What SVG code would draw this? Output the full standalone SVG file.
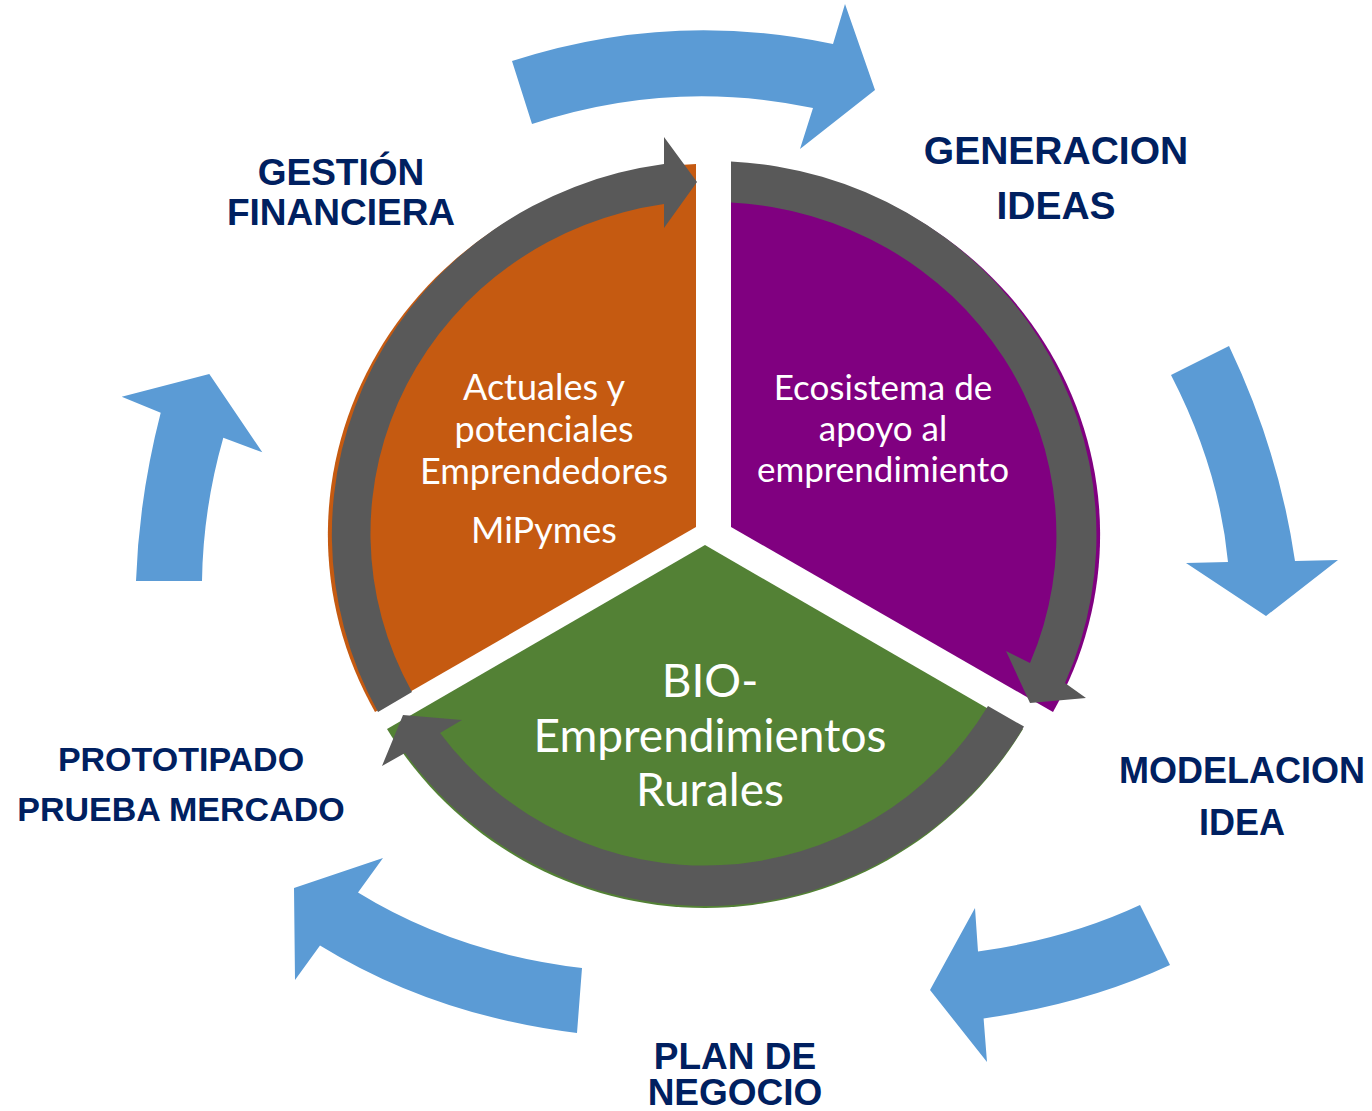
<svg xmlns="http://www.w3.org/2000/svg" width="1372" height="1111" viewBox="0 0 1372 1111">
  <style>
    .lbl { font-family: "Liberation Sans", Arial, sans-serif; font-weight: bold; fill: #002060; text-anchor: middle; }
    .in { font-family: Lato, "Noto Sans", sans-serif; fill: #FFFFFF; text-anchor: middle; }
    .blue { fill: #5B9BD5; }
    .gray { fill: #595959; }
  </style>
  <rect width="1372" height="1111" fill="#FFFFFF"/>

  <g id="seg-orange">
    <path d="M 696,164 L 696,527 L 375,712 A 387 371 0 0 1 696,164 Z" fill="#C55A11"/>
    <text class="in" font-size="36" x="544" y="400">Actuales y</text>
    <text class="in" font-size="36" x="544" y="442">potenciales</text>
    <text class="in" font-size="36" x="544" y="484">Emprendedores</text>
    <text class="in" font-size="36" x="544" y="543">MiPymes</text>
  </g>

  <g id="seg-purple">
    <path d="M 731,164 A 387 371 0 0 1 1053,712 L 731,527 Z" fill="#800080"/>
    <text class="in" font-size="35" x="883" y="400">Ecosistema de</text>
    <text class="in" font-size="35" x="883" y="441">apoyo al</text>
    <text class="in" font-size="35" x="883" y="482">emprendimiento</text>
  </g>

  <g id="seg-green">
    <path d="M 705,545 L 1023,729 A 372 372 0 0 1 387,729 Z" fill="#538135"/>
    <text class="in" font-size="46" x="710" y="697">BIO-</text>
    <text class="in" font-size="46" x="710" y="752">Emprendimientos</text>
    <text class="in" font-size="46" x="710" y="806">Rurales</text>
  </g>

  <g id="connectors">
    <!-- gray circular arrows -->
    <path class="gray" d="M 378,712 A 385 374 0 0 1 664,164 L 664,137 L 697,182 L 664,228 L 664,204 A 344 333 0 0 0 412,692 Z"/>
    <path class="gray" d="M 731,161.4 A 385 374 0 0 1 1065,683 L 1086,698 L 1030,703 L 1006,651 L 1030,663 A 344 333 0 0 0 731,202.5 Z"/>
    <path class="gray" d="M 1024,726.6 A 372 372 0 0 1 405,753 L 382,766 L 403,715 L 462,720 L 440,733 A 331 331 0 0 0 988,706 Z"/>
    <!-- blue outer arrows -->
    <path class="blue" d="M 512,61 Q 671,9.5 833,44 L 845,4 L 875,90 L 800,149 L 813,108 Q 671.5,78 532,124 Z"/>
    <path class="blue" d="M 1171,375 L 1229,346 Q 1279,451 1295,561 L 1338,560 L 1266,616 L 1186,563 L 1228,562 Q 1219,468 1171,375 Z"/>
    <path class="blue" d="M 1140,905 Q 1068,938.7 978,951.6 L 975,908 L 930,990 L 987,1062 L 983.6,1018.4 Q 1086.8,1003.6 1170,965 Z"/>
    <path class="blue" d="M 582,968 Q 456,953 358,892.6 L 383,858 L 294,888 L 295,980 L 320,945.4 Q 433,1015 577,1033 Z"/>
    <path class="blue" d="M 136,581 L 202,581 Q 203,509 223.3,437.7 L 262.3,452.3 L 209.3,374 L 121.7,396.7 L 160.7,412.7 Q 139,497 136,581 Z"/>
  </g>

  <g id="label-gestion">
    <text class="lbl" font-size="37" x="341" y="185">GESTIÓN</text>
    <text class="lbl" font-size="37" x="341" y="225">FINANCIERA</text>
  </g>
  <g id="label-generacion">
    <text class="lbl" font-size="39" x="1056" y="164">GENERACION</text>
    <text class="lbl" font-size="39" x="1056" y="219">IDEAS</text>
  </g>
  <g id="label-modelacion">
    <text class="lbl" font-size="36" x="1242" y="783">MODELACION</text>
    <text class="lbl" font-size="36" x="1242" y="835">IDEA</text>
  </g>
  <g id="label-plan">
    <text class="lbl" font-size="37" x="735" y="1069">PLAN DE</text>
    <text class="lbl" font-size="37" x="735" y="1105">NEGOCIO</text>
  </g>
  <g id="label-prototipado">
    <text class="lbl" font-size="34" x="181" y="771">PROTOTIPADO</text>
    <text class="lbl" font-size="34" x="181" y="821">PRUEBA MERCADO</text>
  </g>
</svg>
